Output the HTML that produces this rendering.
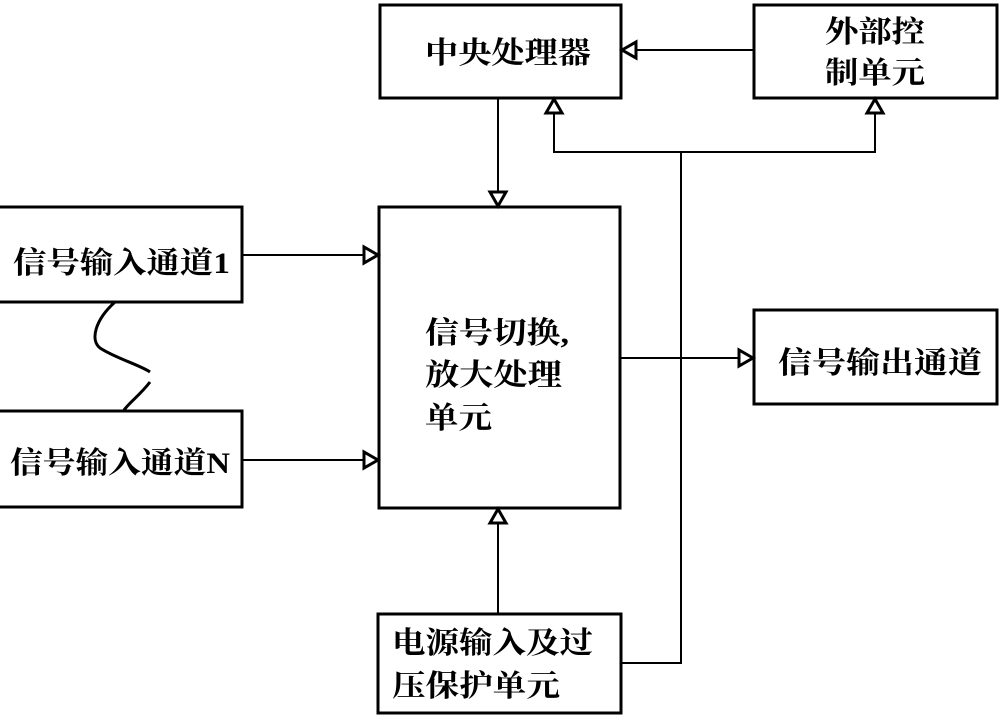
<!DOCTYPE html>
<html><head><meta charset="utf-8"><style>
body{margin:0;background:#fff}
svg text{font-family:"Liberation Serif","Noto Serif CJK SC",serif;font-weight:bold;font-size:30px;fill:#000}
</style></head><body>
<svg width="1000" height="716" viewBox="0 0 1000 716" xmlns="http://www.w3.org/2000/svg">
<g fill="none" stroke="#000" stroke-width="3">
<rect x="380" y="5" width="241" height="93"/>
<rect x="754" y="5" width="243" height="93"/>
<rect x="-5" y="207" width="247" height="95"/>
<rect x="-5" y="411" width="247" height="96"/>
<rect x="379" y="207" width="241" height="301"/>
<rect x="754" y="310" width="243" height="94"/>
<rect x="378" y="614" width="243" height="99"/>
</g>
<g fill="none" stroke="#000" stroke-width="2">
<path d="M754 50H635"/>
<path d="M498 98V194"/>
<path d="M242 255H366"/>
<path d="M242 460H366"/>
<path d="M620 358H741"/>
<path d="M498 614V522"/>
<path d="M621 663H681V152"/>
<path d="M554 112V152H875V112"/>
<path d="M115 302C95 320 90 340 100 348C115 358 140 365 150 372" stroke-width="3"/>
<path d="M150 382C140 395 130 402 124 410" stroke-width="3"/>
</g>
<g fill="#fff" stroke="#000" stroke-width="3">
<path d="M622 50L636 42V58Z"/>
<path d="M498 206L490 192H506Z"/>
<path d="M378 255L364 247V263Z"/>
<path d="M378 460L364 452V468Z"/>
<path d="M753 358L739 350V366Z"/>
<path d="M498 509L490 523H506Z"/>
<path d="M554 99L546 113H562Z"/>
<path d="M875 99L867 113H883Z"/>
</g>
<text x="425" y="63" textLength="166" lengthAdjust="spacingAndGlyphs">中央处理器</text>
<text x="825" y="42" textLength="100" lengthAdjust="spacingAndGlyphs">外部控</text>
<text x="825" y="83" textLength="100" lengthAdjust="spacingAndGlyphs">制单元</text>
<text x="13" y="273" textLength="217" lengthAdjust="spacingAndGlyphs">信号输入通道1</text>
<text x="10" y="473" textLength="220" lengthAdjust="spacingAndGlyphs">信号输入通道N</text>
<text x="425" y="343" textLength="144" lengthAdjust="spacingAndGlyphs">信号切换,</text>
<text x="425" y="385" textLength="137" lengthAdjust="spacingAndGlyphs">放大处理</text>
<text x="425" y="428" textLength="67" lengthAdjust="spacingAndGlyphs">单元</text>
<text x="778" y="373" textLength="204" lengthAdjust="spacingAndGlyphs">信号输出通道</text>
<text x="392" y="653" textLength="201" lengthAdjust="spacingAndGlyphs">电源输入及过</text>
<text x="392" y="696" textLength="168" lengthAdjust="spacingAndGlyphs">压保护单元</text>
</svg>
</body></html>
